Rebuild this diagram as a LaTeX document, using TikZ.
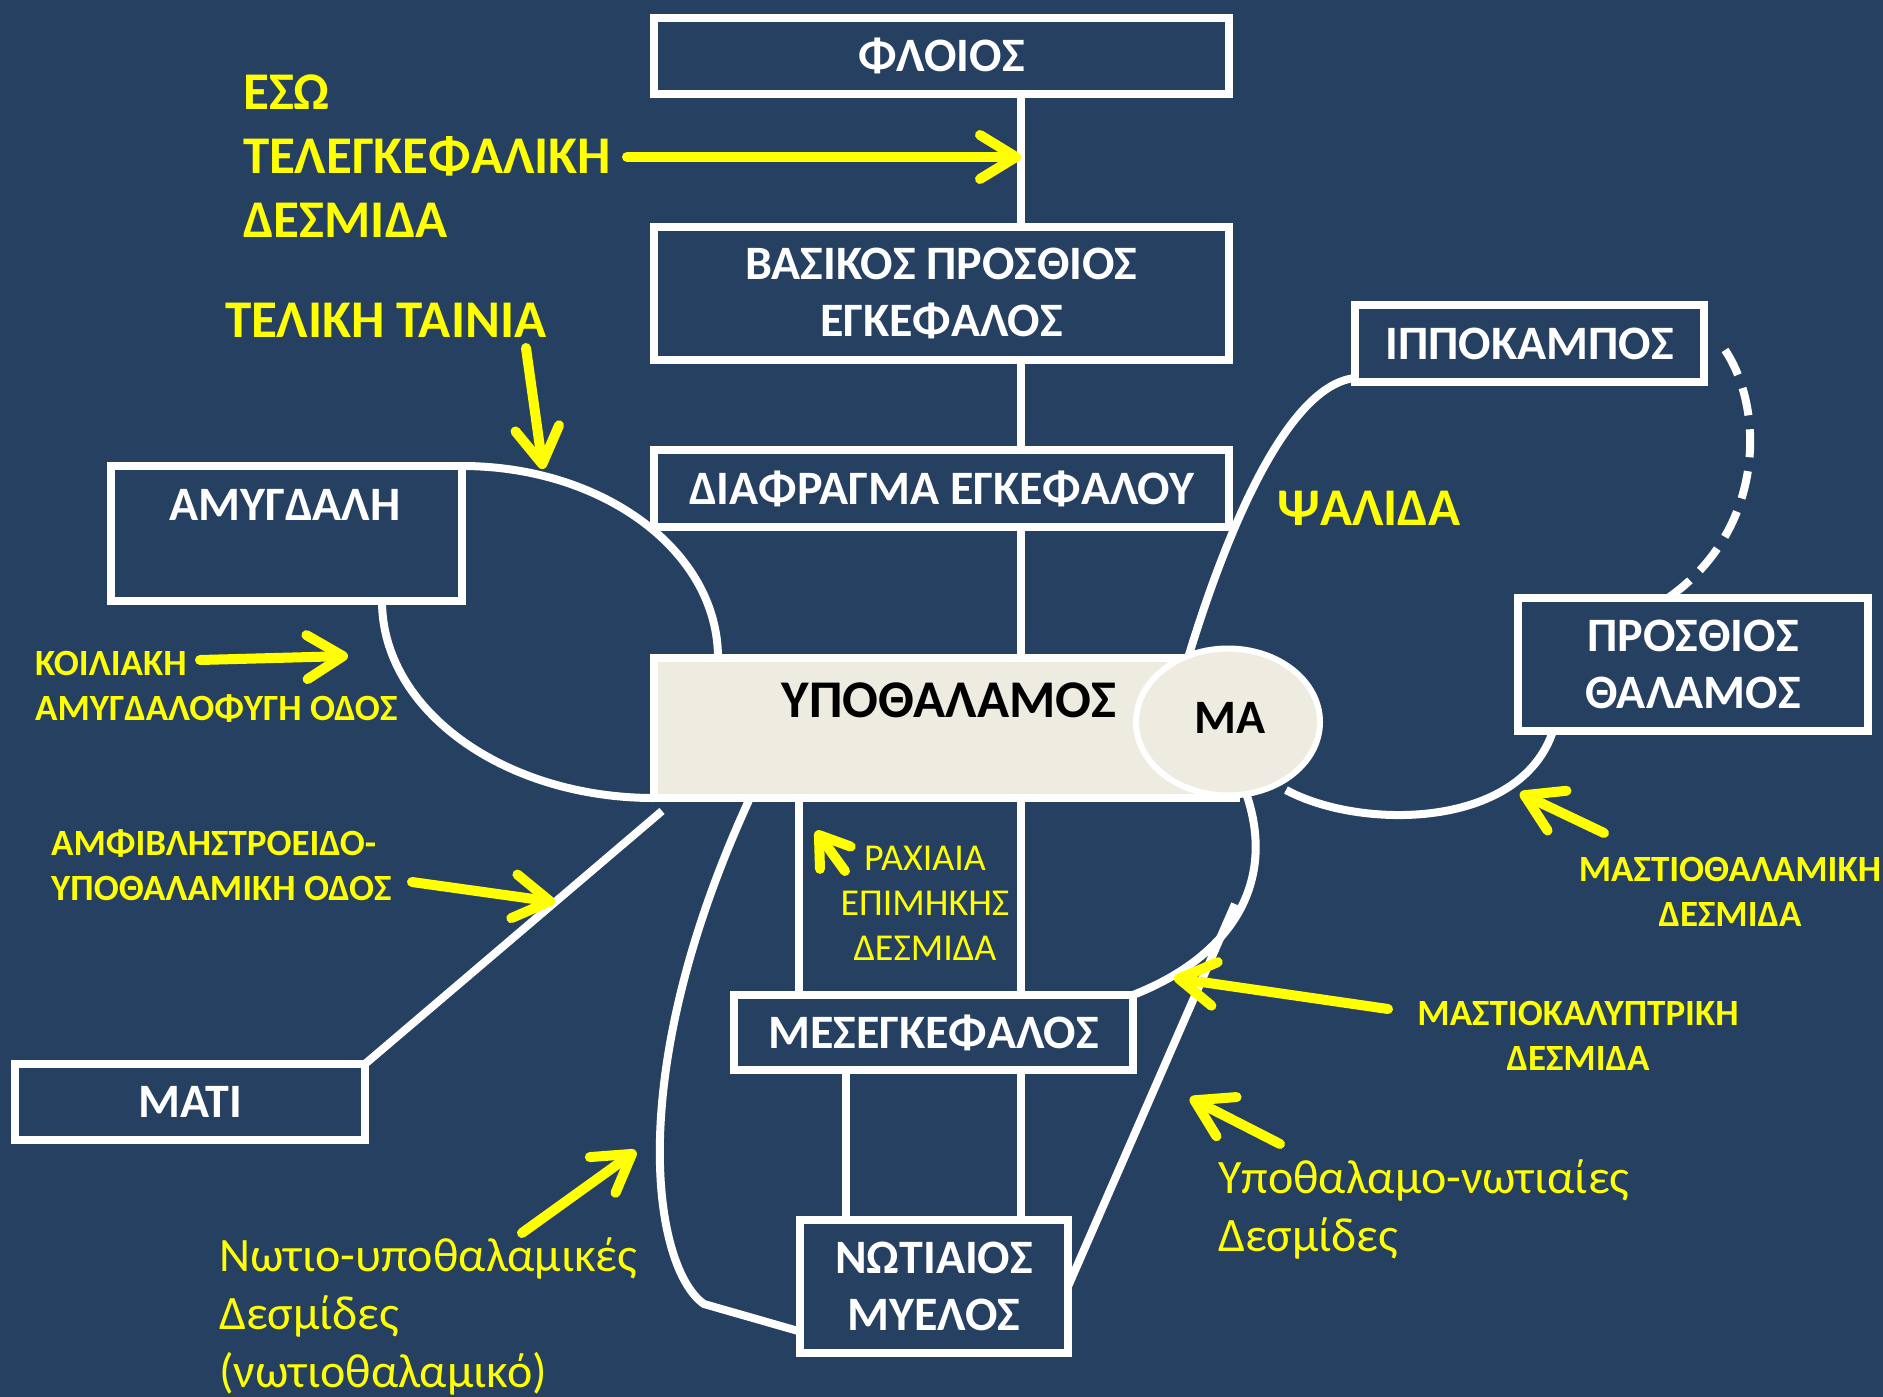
\documentclass[tikz,border=0pt]{standalone}
\usepackage{fontspec}
\setmainfont{Carlito}
\usetikzlibrary{arrows.meta,shapes.geometric}
\definecolor{bgblue}{RGB}{38,64,97}
\definecolor{hypfill}{RGB}{238,236,225}
\definecolor{yel}{RGB}{255,255,0}
\pgfdeclarelayer{back}
\pgfsetlayers{back,main}
\begin{document}
\begin{tikzpicture}[x=1pt,y=-1pt,
  box/.style={draw=white, line width=8pt, fill=bgblue, text=white, inner sep=0pt, outer sep=0pt,
    font=\bfseries\fontsize{48}{57}\selectfont, align=center},
  wtext/.style={text=white, inner sep=0pt, font=\bfseries\fontsize{48}{57}\selectfont},
  dtext/.style={text=black, inner sep=0pt, font=\bfseries\fontsize{53}{60}\selectfont},
  wline/.style={draw=white, line width=8pt},
  yarrow/.style={draw=yel, line width=10pt, line cap=round,
    -{Straight Barb[length=36pt,width=44pt,line cap=round,line join=round]}},
  ybig/.style={text=yel, inner sep=0pt, align=left, font=\bfseries\fontsize{53}{64}\selectfont},
  ysmall/.style={text=yel, inner sep=0pt, font=\bfseries\fontsize{37}{45}\selectfont},
  yreg/.style={text=yel, inner sep=0pt, align=left, font=\fontsize{48}{58}\selectfont},
]
\useasboundingbox (0,0) rectangle (1883,1397);

% ---------- boxes ----------
\node[box, minimum width=575pt, minimum height=76pt] (floios) at (941.5,56) {ΦΛΟΙΟΣ};
\node[box, minimum width=575pt, minimum height=133pt] (basikos) at (941.5,293.5) {ΒΑΣΙΚΟΣ ΠΡΟΣΘΙΟΣ\\ΕΓΚΕΦΑΛΟΣ};
\node[box, minimum width=575pt, minimum height=77pt] (diafr) at (941.5,488.5) {ΔΙΑΦΡΑΓΜΑ ΕΓΚΕΦΑΛΟΥ};
\node[box, minimum width=349pt, minimum height=77pt] (ipp) at (1529.5,343.5) {ΙΠΠΟΚΑΜΠΟΣ};
\node[box, minimum width=350pt, minimum height=133pt] (prosth) at (1693,664.5) {ΠΡΟΣΘΙΟΣ\\ΘΑΛΑΜΟΣ};
\node[box, minimum width=351pt, minimum height=135pt] (amyg) at (286.5,533.5) {};
\node[wtext] (amygtxt) at (285,505) {ΑΜΥΓΔΑΛΗ};
\node[box, minimum width=350pt, minimum height=76pt] (mati) at (190,1102) {ΜΑΤΙ};
\node[box, minimum width=399pt, minimum height=75pt] (meseg) at (933.5,1032.5) {ΜΕΣΕΓΚΕΦΑΛΟΣ};
\node[box, minimum width=268pt, minimum height=133pt] (notiaios) at (934,1286.5) {ΝΩΤΙΑΙΟΣ\\ΜΥΕΛΟΣ};
\node[box, fill=hypfill, minimum width=582pt, minimum height=140pt] (hypo) at (945,728) {};
\node[ellipse, draw=white, line width=6pt, fill=hypfill, inner sep=0pt,
      minimum width=184pt, minimum height=147pt] (ma) at (1228,722) {};
\node[dtext] (hypotxt) at (949,700) {ΥΠΟΘΑΛΑΜΟΣ};
\node[dtext, font=\bfseries\fontsize{48}{57}\selectfont] (matxt) at (1230,718) {ΜΑ};

% ---------- helper coordinates ----------
\coordinate (spine) at (1021,0);
\coordinate (raxx) at (799,0);
\coordinate (mesx) at (846,0);
\coordinate (stx) at (718,0);
\coordinate (vafx) at (382,0);
\coordinate (fornx) at (1188,0);
\coordinate (mtx) at (1553,0);
\coordinate (dashx) at (1668,0);
\coordinate (dorsx) at (750,0);
\coordinate (retE) at (662,811);
\coordinate (dashS) at (1725,350);
\coordinate (mtE) at (1286,790);
\coordinate (mtgS) at (1247,796);
\coordinate (hsS) at (1235,904);
\coordinate (dorsK) at (704,1304);

% ---------- pathways under the boxes ----------
\begin{pgfonlayer}{back}
\fill[bgblue] (0,0) rectangle (1883,1397);
% stria terminalis
\draw[wline] (amyg.north east) .. controls (603,466) and (718,551) .. (hypo.north -| stx);
% ventral amygdalofugal
\draw[wline] (amyg.south -| vafx) .. controls (382,710) and (504,798) .. (hypo.south west);
% retinohypothalamic
\draw[wline] (mati.north east) -- (retE);
% fornix
\draw[wline] ([yshift=4pt]ipp.south west) .. controls (1290,385) and (1230,520) .. (hypo.north -| fornx);
% hippocampus - anterior thalamus (dashed)
\draw[wline, dash pattern=on 28pt off 14pt] (dashS) .. controls (1765,410) and (1765,530) .. (prosth.north -| dashx);
% mammillothalamic
\draw[wline] (prosth.south -| mtx) .. controls (1520,830) and (1360,830) .. (mtE);
% mammillotegmental
\draw[wline] (mtgS) .. controls (1275,880) and (1235,955) .. (meseg.north east);
% hypothalamospinal
\draw[wline] (hsS) -- (notiaios.east);
% dorsal (spino-hypothalamic)
\draw[wline, line join=round] ([yshift=-45pt]notiaios.west) -- (dorsK) .. controls (655,1270) and (620,1080) .. (hypo.south -| dorsx);
\end{pgfonlayer}

% ---------- connecting lines ----------
\draw[wline] (floios.south -| spine) -- (basikos.north -| spine);
\draw[wline] (basikos.south -| spine) -- (diafr.north -| spine);
\draw[wline] (diafr.south -| spine) -- (hypo.north -| spine);
\draw[wline] (hypo.south -| spine) -- (meseg.north -| spine);
\draw[wline] (meseg.south -| spine) -- (notiaios.north -| spine);
\draw[wline] (hypo.south -| raxx) -- (meseg.north -| raxx);
\draw[wline] (meseg.south -| mesx) -- (notiaios.north -| mesx);

% ---------- yellow labels (base = baseline of last line) ----------
\node[ybig, anchor=base west] (eso) at (243,237) {ΕΣΩ\\ΤΕΛΕΓΚΕΦΑΛΙΚΗ\\ΔΕΣΜΙΔΑ};
\node[ybig, anchor=base west] (teliki) at (225,337) {ΤΕΛΙΚΗ ΤΑΙΝΙΑ};
\node[ybig, anchor=base west] (psalida) at (1277,525) {ΨΑΛΙΔΑ};
\node[ysmall, anchor=base west, align=left] (koiliaki) at (35,720) {ΚΟΙΛΙΑΚΗ\\ΑΜΥΓΔΑΛΟΦΥΓΗ ΟΔΟΣ};
\node[ysmall, anchor=base west, align=left] (amfibl) at (51,900) {ΑΜΦΙΒΛΗΣΤΡΟΕΙΔΟ-\\ΥΠΟΘΑΛΑΜΙΚΗ ΟΔΟΣ};
\node[text=yel, inner sep=0pt, align=center, font=\fontsize{38}{45}\selectfont, anchor=base] (raxiaia) at (925,960) {ΡΑΧΙΑΙΑ\\ΕΠΙΜΗΚΗΣ\\ΔΕΣΜΙΔΑ};
\node[ysmall, anchor=base, align=center] (mastiothal) at (1730,926) {ΜΑΣΤΙΟΘΑΛΑΜΙΚΗ\\ΔΕΣΜΙΔΑ};
\node[ysmall, anchor=base, align=center] (mastiokal) at (1578,1070) {ΜΑΣΤΙΟΚΑΛΥΠΤΡΙΚΗ\\ΔΕΣΜΙΔΑ};
\node[yreg, anchor=base west] (ypothnot) at (1218,1251) {Υποθαλαμο-νωτιαίες\\Δεσμίδες};
\node[yreg, anchor=base west] (notioyp) at (219,1387) {Νωτιο-υποθαλαμικές\\Δεσμίδες\\(νωτιοθαλαμικό)};

% ---------- yellow arrows ----------
\coordinate (a1s) at (627,157);
\coordinate (a2s) at (526,348);  \coordinate (a2e) at (543,469);
\coordinate (a3s) at (200,660);  \coordinate (a3e) at (348,656);
\coordinate (a4s) at (412,882);  \coordinate (a4e) at (555,902);
\coordinate (a5s) at (845,871);  \coordinate (a5e) at (816,831);
\coordinate (a6s) at (1604,833); \coordinate (a6e) at (1520,793);
\coordinate (a7s) at (1388,1009); \coordinate (a7e) at (1174,978);
\coordinate (a8s) at (1280,1144); \coordinate (a8e) at (1190,1098);
\coordinate (a9s) at (522,1233); \coordinate (a9e) at (636,1151);
\draw[yarrow] (a1s) -- (spine |- a1s);
\draw[yarrow] (a2s) -- (a2e);
\draw[yarrow] (a3s) -- (a3e);
\draw[yarrow] (a4s) -- (a4e);
\draw[yarrow, -{Straight Barb[length=28pt,width=38pt,line cap=round,line join=round]}] (a5s) -- (a5e);
\draw[yarrow] (a6s) -- (a6e);
\draw[yarrow] (a7s) -- (a7e);
\draw[yarrow] (a8s) -- (a8e);
\draw[yarrow] (a9s) -- (a9e);
\end{tikzpicture}
\end{document}
